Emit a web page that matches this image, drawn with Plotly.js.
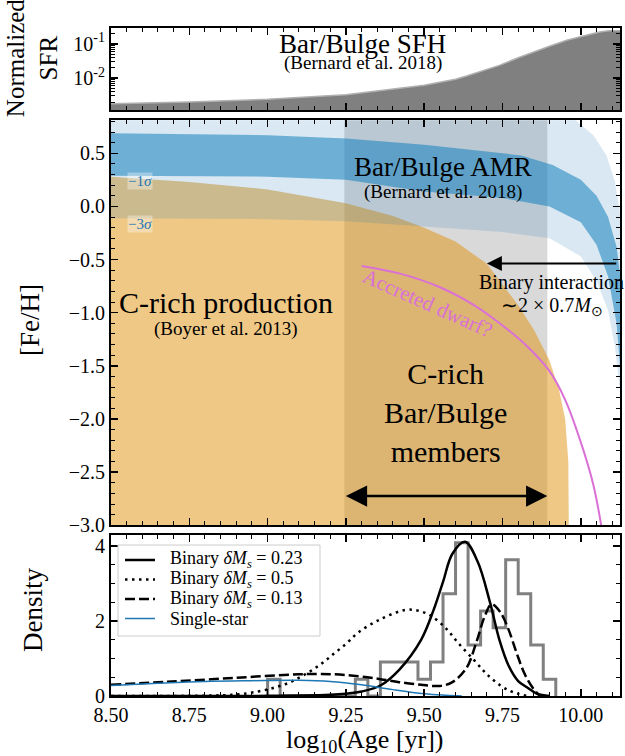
<!DOCTYPE html>
<html><head><meta charset="utf-8">
<script src="https://cdn.plot.ly/plotly-3.0.1.min.js"></script>
<style>html,body{margin:0;padding:0;background:#fff}#chart{width:625px;height:756px}</style>
</head><body><div id="chart"></div>
<script>
// ---------- Top panel: star formation history ----------
const ageSFH = [8.5, 8.75, 9.0, 9.25, 9.5, 9.6, 9.635, 9.7, 9.74, 9.8, 9.848, 9.9, 9.955, 10.0, 10.03, 10.06, 10.09, 10.13];
const sfr    = [0.00178, 0.0020, 0.0024, 0.00324, 0.00617, 0.0093, 0.0115, 0.0178, 0.0234, 0.039, 0.0575, 0.085, 0.126, 0.166, 0.19, 0.219, 0.24, 0.24];

// ---------- Middle panel: age-metallicity relation ----------
const amrOuterHiX = [8.45, 9.0, 9.5, 9.9, 9.975, 10.04, 10.082, 10.109, 10.13, 10.15];
const amrOuterHiY = [1.08, 1.06, 1.02, 0.93, 0.83, 0.67, 0.48, 0.23, -0.15, -0.9];
const amrOuterLoX = [8.45, 9.0, 9.25, 9.5, 9.75, 9.9, 10.0, 10.05, 10.087, 10.109, 10.125, 10.15];
const amrOuterLoY = [-0.11, -0.12, -0.14, -0.19, -0.24, -0.3, -0.47, -0.7, -0.98, -1.32, -1.75, -2.8];
const amrInnerHiX = [8.45, 9.0, 9.25, 9.5, 9.75, 9.81, 9.91, 10.0, 10.05, 10.087, 10.114, 10.13, 10.15];
const amrInnerHiY = [0.69, 0.67, 0.64, 0.58, 0.5, 0.48, 0.39, 0.25, 0.10, -0.1, -0.38, -0.75, -1.5];
const amrInnerLoX = [8.45, 9.0, 9.25, 9.5, 9.75, 9.9, 10.0, 10.05, 10.087, 10.114, 10.125, 10.15];
const amrInnerLoY = [0.29, 0.28, 0.25, 0.14, 0.08, 0.0, -0.15, -0.36, -0.66, -1.1, -1.5, -2.6];
const cProdX = [8.45, 8.5, 8.75, 9.0, 9.25, 9.4, 9.5, 9.6, 9.7, 9.8, 9.85, 9.9, 9.93, 9.95, 9.96, 9.962];
const cProdY = [0.28, 0.28, 0.23, 0.16, 0.03, -0.09, -0.2, -0.33, -0.54, -0.93, -1.16, -1.45, -1.72, -2.0, -2.4, -3.2];
const cProdFloor = -3.2;
const memberSpan = [9.245, 9.893];
const dwarfX = [9.30, 9.42, 9.55, 9.66, 9.75, 9.83, 9.90, 9.95, 10.0, 10.04, 10.065];
const dwarfY = [-0.56, -0.63, -0.76, -0.93, -1.12, -1.32, -1.55, -1.82, -2.22, -2.62, -3.0];

// ---------- Bottom panel: age densities ----------
const histEdges = [9.00, 9.04, 9.08, 9.12, 9.16, 9.20, 9.24, 9.28, 9.32, 9.36, 9.40, 9.44, 9.48, 9.52, 9.56, 9.60, 9.64, 9.68, 9.72, 9.76, 9.80, 9.84, 9.88, 9.92];
const histDensity = [0.45, 0, 0, 0, 0, 0, 0, 0.45, 0, 0.91, 0.91, 0.91, 0.45, 0.91, 2.73, 4.09, 1.36, 2.27, 1.82, 3.64, 2.73, 1.36, 0.45];

const bin23X = [8.5, 8.9, 9.0, 9.1, 9.2, 9.25, 9.3, 9.36, 9.42, 9.49, 9.53, 9.56, 9.59, 9.63, 9.67, 9.71, 9.74, 9.77, 9.8, 9.83, 9.86, 9.9];
const bin23Y = [0, 0, 0.005, 0.01, 0.03, 0.06, 0.12, 0.28, 0.7, 1.5, 2.3, 3.05, 3.8, 4.12, 3.6, 2.5, 1.5, 0.8, 0.4, 0.22, 0.06, 0];
const bin50X = [8.5, 8.8, 8.9, 8.97, 9.02, 9.07, 9.12, 9.17, 9.21, 9.25, 9.29, 9.36, 9.44, 9.48, 9.52, 9.57, 9.61, 9.66, 9.7, 9.74, 9.77, 9.8, 9.83];
const bin50Y = [0, 0.01, 0.04, 0.12, 0.22, 0.36, 0.58, 0.85, 1.12, 1.39, 1.7, 2.05, 2.3, 2.28, 2.15, 1.8, 1.4, 0.95, 0.58, 0.3, 0.15, 0.06, 0];
const bin13X = [8.5, 8.68, 8.89, 9.1, 9.21, 9.29, 9.36, 9.42, 9.49, 9.55, 9.59, 9.635, 9.667, 9.694, 9.715, 9.742, 9.768, 9.795, 9.82, 9.848, 9.87];
const bin13Y = [0.3, 0.38, 0.48, 0.58, 0.58, 0.53, 0.45, 0.37, 0.3, 0.27, 0.37, 0.75, 1.45, 2.15, 2.45, 2.25, 1.8, 1.15, 0.6, 0.2, 0];
const singleX = [8.5, 8.65, 8.8, 8.95, 9.1, 9.2, 9.3, 9.4, 9.5, 9.57, 9.62];
const singleY = [0.28, 0.34, 0.39, 0.41, 0.42, 0.39, 0.3, 0.17, 0.06, 0.02, 0];

const legendNames = ['Binary <i>δM<sub>s</sub></i> = 0.23', 'Binary <i>δM<sub>s</sub></i> = 0.5', 'Binary <i>δM<sub>s</sub></i> = 0.13', 'Single-star'];

// ---------- build ----------
const FONT = 'Liberation Serif, Times New Roman, serif';
function band(hiX, hiY, loX, loY) {
  return { x: hiX.concat(loX.slice().reverse()), y: hiY.concat(loY.slice().reverse()) };
}
const outer = band(amrOuterHiX, amrOuterHiY, amrOuterLoX, amrOuterLoY);
const inner = band(amrInnerHiX, amrInnerHiY, amrInnerLoX, amrInnerLoY);

const hx = [histEdges[0]], hy = [0];
for (let i = 0; i < histDensity.length; i++) { hx.push(histEdges[i]); hy.push(histDensity[i]); }
hx.push(histEdges[histEdges.length - 1]); hy.push(0);

const lineStyles = [
  { color: 'black', width: 2.5 },
  { color: 'black', width: 2.5, dash: '2.5px,4.5px' },
  { color: 'black', width: 2.5, dash: '10px,4px' },
  { color: '#1f77b4', width: 1.5 }
];

const traces = [
  { x: ageSFH.concat([ageSFH[ageSFH.length-1], ageSFH[0]]), y: sfr.concat([1e-4, 1e-4]),
    xaxis: 'x', yaxis: 'y', type: 'scatter', mode: 'lines', fill: 'toself',
    fillcolor: '#808080', line: { color: '#b0b0b0', width: 1.5 }, showlegend: false, hoverinfo: 'skip' },
  { x: cProdX.concat([cProdX[0]]), y: cProdY.concat([cProdFloor]), xaxis: 'x2', yaxis: 'y2',
    type: 'scatter', mode: 'lines', fill: 'toself', fillcolor: 'rgba(223,145,13,0.5)',
    line: { width: 0 }, showlegend: false, hoverinfo: 'skip' },
  { x: outer.x, y: outer.y, xaxis: 'x2', yaxis: 'y2', type: 'scatter', mode: 'lines', fill: 'toself',
    fillcolor: 'rgba(31,119,180,0.17)', line: { width: 0 }, showlegend: false, hoverinfo: 'skip' },
  { x: inner.x, y: inner.y, xaxis: 'x2', yaxis: 'y2', type: 'scatter', mode: 'lines', fill: 'toself',
    fillcolor: 'rgba(20,127,190,0.55)', line: { width: 0 }, showlegend: false, hoverinfo: 'skip' },
  { x: dwarfX, y: dwarfY, xaxis: 'x2', yaxis: 'y2', type: 'scatter', mode: 'lines',
    line: { color: 'orchid', width: 2, shape: 'spline' }, showlegend: false, hoverinfo: 'skip' },
  { x: hx, y: hy, xaxis: 'x3', yaxis: 'y3', type: 'scatter', mode: 'lines',
    line: { color: '#808080', width: 3, shape: 'hv' }, showlegend: false, hoverinfo: 'skip' }
];
[[bin23X, bin23Y], [bin50X, bin50Y], [bin13X, bin13Y], [singleX, singleY]].forEach((d, i) => {
  traces.push({ x: d[0], y: d[1], xaxis: 'x3', yaxis: 'y3', type: 'scatter', mode: 'lines', name: legendNames[i],
    line: Object.assign({ shape: 'spline' }, lineStyles[i]), showlegend: false, hoverinfo: 'skip' });
});

const tickFont = { family: FONT, size: 20, color: 'black' };
function xAxis(anchor, labels) {
  return {
    anchor: anchor, range: [8.5, 10.125], showline: true, mirror: 'allticks', linewidth: 2, linecolor: 'black',
    ticks: 'inside', ticklen: 7, tickwidth: 1.5, tickcolor: 'black', dtick: 0.25, tick0: 8.5, tickformat: '.2f',
    minor: { ticks: 'inside', ticklen: 4, tickwidth: 1, tickcolor: 'black', dtick: 0.05 },
    showgrid: false, zeroline: false, showticklabels: labels, tickfont: tickFont
  };
}
const common = { showline: true, mirror: 'allticks', linewidth: 2, linecolor: 'black', ticks: 'inside',
  ticklen: 7, tickwidth: 1.5, tickcolor: 'black', showgrid: false, zeroline: false, tickfont: tickFont };

const logMinor = [];
[0.001, 0.01, 0.1].forEach(d => { for (let k = 2; k <= 9; k++) logMinor.push(k * d); });

// manual legend (paper coordinates)
const legBox = { x0: 0.0138, x1: 0.4106, y0: 0.0898, y1: 0.226 };
const legRowY = [0.2036, 0.1744, 0.1452, 0.116];
const shapes = [
  { type: 'rect', xref: 'x2', yref: 'y2 domain', x0: memberSpan[0], x1: memberSpan[1], y0: 0, y1: 1,
    fillcolor: 'rgba(128,128,128,0.3)', line: { width: 0 }, layer: 'below' },
  { type: 'rect', xref: 'paper', yref: 'paper', x0: legBox.x0, x1: legBox.x1, y0: legBox.y0, y1: legBox.y1,
    fillcolor: 'rgba(255,255,255,0.8)', line: { color: '#cccccc', width: 1 }, layer: 'above' }
];
const annotations = [];
legRowY.forEach((yy, i) => {
  shapes.push({ type: 'line', xref: 'paper', yref: 'paper', x0: 0.0275, x1: 0.0864, y0: yy, y1: yy,
    line: lineStyles[i], layer: 'above' });
  annotations.push({ xref: 'paper', yref: 'paper', x: 0.1126, y: yy, xanchor: 'left', yanchor: 'middle',
    text: legendNames[i], showarrow: false, font: { size: 18 } });
});

annotations.push(
  { xref: 'x', yref: 'y', x: 9.303, y: -1.02, text: 'Bar/Bulge SFH', showarrow: false, font: { size: 27 } },
  { xref: 'x', yref: 'y', x: 9.303, y: -1.57, text: '(Bernard et al. 2018)', showarrow: false, font: { size: 19 } },
  { xref: 'x2', yref: 'y2', x: 9.56, y: 0.37, text: 'Bar/Bulge AMR', showarrow: false, font: { size: 27 } },
  { xref: 'x2', yref: 'y2', x: 9.56, y: 0.14, text: '(Bernard et al. 2018)', showarrow: false, font: { size: 19 } },
  { xref: 'x2', yref: 'y2', x: 8.867, y: -0.90, text: 'C-rich production', showarrow: false, font: { size: 30 } },
  { xref: 'x2', yref: 'y2', x: 8.867, y: -1.15, text: '(Boyer et al. 2013)', showarrow: false, font: { size: 19 } },
  { xref: 'x2', yref: 'y2', x: 9.569, y: -1.94, text: 'C-rich<br>Bar/Bulge<br>members', showarrow: false, font: { size: 30 } },
  { xref: 'x2', yref: 'y2', x: 9.906, y: -0.72, text: 'Binary interaction', showarrow: false, font: { size: 20 } },
  { xref: 'x2', yref: 'y2', x: 9.907, y: -0.94, text: '∼2 × 0.7<i>M</i><sub>⊙</sub>', showarrow: false, font: { size: 20 } },
  { xref: 'x2', yref: 'y2', x: 9.51, y: -0.91, text: 'Accreted dwarf?', showarrow: false, textangle: 24,
    font: { size: 21, color: 'orchid' } },
  { xref: 'x2', yref: 'y2', x: 8.593, y: 0.235, text: '−1<i>σ</i>', showarrow: false,
    font: { size: 15, color: '#1f77b4' }, bgcolor: 'rgba(255,255,255,0.35)', borderpad: 0 },
  { xref: 'x2', yref: 'y2', x: 8.593, y: -0.167, text: '−3<i>σ</i>', showarrow: false,
    font: { size: 15, color: '#1f77b4' }, bgcolor: 'rgba(255,255,255,0.35)', borderpad: 0 },
  { xref: 'x2', yref: 'y2', axref: 'x2', ayref: 'y2', x: 9.70, y: -0.536, ax: 10.118, ay: -0.536, text: '',
    showarrow: true, arrowhead: 2, arrowsize: 1.5, arrowwidth: 2, arrowcolor: 'black' },
  { xref: 'x2', yref: 'y2', axref: 'x2', ayref: 'y2', x: memberSpan[1], y: -2.725, ax: memberSpan[0], ay: -2.725, text: '',
    showarrow: true, arrowhead: 2, startarrowhead: 2, arrowside: 'end+start', arrowsize: 1.7, startarrowsize: 1.7,
    arrowwidth: 2.5, arrowcolor: 'black' },
  { xref: 'paper', yref: 'paper', x: -0.155, y: 0.955, text: 'Normalized<br>SFR', showarrow: false,
    textangle: -90, font: { size: 25 }, xanchor: 'center', yanchor: 'middle' },
  { xref: 'paper', yref: 'paper', x: -0.159, y: 0.563, text: '[Fe/H]', showarrow: false,
    textangle: -90, font: { size: 27 }, xanchor: 'center', yanchor: 'middle' },
  { xref: 'paper', yref: 'paper', x: -0.153, y: 0.129, text: 'Density', showarrow: false,
    textangle: -90, font: { size: 27 }, xanchor: 'center', yanchor: 'middle' },
  { xref: 'paper', yref: 'paper', x: 0.499, y: -0.068, text: 'log<sub>10</sub>(Age [yr])', showarrow: false,
    font: { size: 26 }, xanchor: 'center', yanchor: 'middle' }
);

const layout = {
  width: 625, height: 756, margin: { l: 111, r: 5, t: 28, b: 60 },
  paper_bgcolor: 'white', plot_bgcolor: 'white', font: { family: FONT, color: 'black' }, showlegend: false,
  xaxis: xAxis('y', false), xaxis2: xAxis('y2', false), xaxis3: xAxis('y3', true),
  yaxis: Object.assign({}, common, { domain: [0.8768, 1], type: 'log', range: [-2.94, -0.54],
    tickmode: 'array', tickvals: [0.01, 0.1], ticktext: ['10<sup>-2</sup>', '10<sup>-1</sup>'],
    minor: { ticks: 'inside', ticklen: 4, tickwidth: 1, tickcolor: 'black', tickmode: 'array', tickvals: logMinor } }),
  yaxis2: Object.assign({}, common, { domain: [0.2555, 0.8618], range: [-3.0, 0.81], dtick: 0.5, tickformat: '.1f',
    minor: { ticks: 'inside', ticklen: 4, tickwidth: 1, tickcolor: 'black', dtick: 0.1 } }),
  yaxis3: Object.assign({}, common, { domain: [0, 0.241], range: [0, 4.3], dtick: 2,
    minor: { ticks: 'inside', ticklen: 4, tickwidth: 1, tickcolor: 'black', dtick: 0.5 } }),
  shapes: shapes,
  annotations: annotations
};

Plotly.newPlot('chart', traces, layout, { displayModeBar: false, staticPlot: true });
</script></body></html>
